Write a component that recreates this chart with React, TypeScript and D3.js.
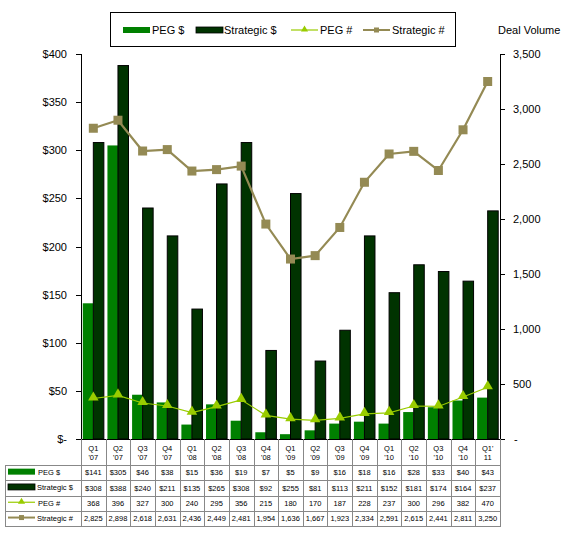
import React from 'react';
import * as d3 from 'd3';

// quarters (two-line labels)
const quarters = ['Q1', 'Q2', 'Q3', 'Q4', 'Q1', 'Q2', 'Q3', 'Q4', 'Q1', 'Q2', 'Q3', 'Q4', 'Q1', 'Q2', 'Q3', 'Q4', "Q1'"];
const years = ["'07", "'07", "'07", "'07", "'08", "'08", "'08", "'08", "'09", "'09", "'09", "'09", "'10", "'10", "'10", "'10", '11'];

const pegDollar = [141, 305, 46, 38, 15, 36, 19, 7, 5, 9, 16, 18, 16, 28, 33, 40, 43];
const stratDollar = [308, 388, 240, 211, 135, 265, 308, 92, 255, 81, 113, 211, 152, 181, 174, 164, 237];
const pegCount = [368, 396, 327, 300, 240, 295, 356, 215, 180, 170, 187, 228, 237, 300, 296, 382, 470];
const stratCount = [2825, 2898, 2618, 2631, 2436, 2449, 2481, 1954, 1636, 1667, 1923, 2334, 2591, 2615, 2441, 2811, 3250];

const leftTicks = [0, 50, 100, 150, 200, 250, 300, 350, 400];
const rightTicks = [0, 500, 1000, 1500, 2000, 2500, 3000, 3500];

const W = 564;
const H = 534;
const plot = { left: 81, right: 500, top: 54, bottom: 439 };

const C_PEG = '#008000';
const C_STRAT = '#003300';
const C_PEGN = '#99cc00';
const C_STRATN = '#948a54';
const GRID = '#888888';
const FONT = '"Liberation Sans", Arial, sans-serif';

const idx = d3.range(quarters.length);

const x = d3.scaleBand<number>().domain(idx).range([plot.left, plot.right]).paddingInner(0).paddingOuter(0);
const inner = d3.scaleBand<string>().domain(['peg', 'strat']).range([0, x.bandwidth()]).paddingOuter(0.17).paddingInner(0);
const yL = d3.scaleLinear().domain([0, 400]).range([plot.bottom, plot.top]);
const yR = d3.scaleLinear().domain([0, 3500]).range([plot.bottom, plot.top]);

const fmtComma = d3.format(',');
const cx = (i: number) => (x(i) as number) + x.bandwidth() / 2;

const triangle = d3.symbol().type(d3.symbolTriangle).size(48);

const pegLine = d3.line<number>().x((_, i) => cx(i)).y(d => yR(d));

// table rows
const rowTop = 465;
const rowH = 15.3;
const tableLeft = 5;

const rows = [
  { name: 'PEG $', values: pegDollar.map(v => '$' + v), key: 'peg' },
  { name: 'Strategic $', values: stratDollar.map(v => '$' + v), key: 'strat' },
  { name: 'PEG #', values: pegCount.map(v => fmtComma(v)), key: 'pegn' },
  { name: 'Strategic #', values: stratCount.map(v => fmtComma(v)), key: 'stratn' },
];

function Key({ k, x0, y0, w }: { k: string; x0: number; y0: number; w: number }) {
  if (k === 'peg') return <rect x={x0} y={y0 - 3} width={w} height={6} fill={C_PEG} />;
  if (k === 'strat') return <rect x={x0} y={y0 - 3} width={w} height={6} fill={C_STRAT} stroke="#000" strokeWidth={0.8} />;
  if (k === 'pegn')
    return (
      <g>
        <line x1={x0} x2={x0 + w} y1={y0} y2={y0} stroke={C_PEGN} strokeWidth={1.2} />
        <path d={d3.symbol().type(d3.symbolTriangle).size(22)() as string} transform={`translate(${x0 + w / 2},${y0 - 0.5})`} fill={C_PEGN} />
      </g>
    );
  return (
    <g>
      <line x1={x0} x2={x0 + w} y1={y0} y2={y0} stroke={C_STRATN} strokeWidth={2} />
      <rect x={x0 + w / 2 - 2.5} y={y0 - 2.5} width={5} height={5} fill={C_STRATN} />
    </g>
  );
}

const App: React.FC = () => {
  const bw = inner.bandwidth();
  return (
    <svg width={W} height={H} style={{ position: 'absolute', left: 0, top: 0, background: '#fff' }} fontFamily={FONT}>
      {/* legend */}
      <rect x={110.5} y={12.5} width={345} height={34} fill="#fff" stroke="#000" strokeWidth={1} />
      {[
        { k: 'peg', x0: 123, tx: 152, label: 'PEG $' },
        { k: 'strat', x0: 196, tx: 224, label: 'Strategic $' },
        { k: 'pegn', x0: 291, tx: 320, label: 'PEG #' },
        { k: 'stratn', x0: 363, tx: 392, label: 'Strategic #' },
      ].map(d => (
        <g key={d.k}>
          <Key k={d.k} x0={d.x0} y0={30} w={27} />
          <text x={d.tx} y={34} fontSize={11} fill="#000">{d.label}</text>
        </g>
      ))}
      <text x={498} y={34} fontSize={11} fill="#000">Deal Volume</text>

      {/* bars */}
      {idx.map(i => (
        <g key={'b' + i}>
          <rect x={(x(i) as number) + (inner('peg') as number)} y={yL(pegDollar[i])} width={bw} height={yL(0) - yL(pegDollar[i])} fill={C_PEG} />
          <rect x={(x(i) as number) + (inner('strat') as number)} y={yL(stratDollar[i])} width={bw} height={yL(0) - yL(stratDollar[i])} fill={C_STRAT} stroke="#000" strokeWidth={1} />
        </g>
      ))}

      {/* lines */}
      <path d={pegLine(stratCount) as string} fill="none" stroke={C_STRATN} strokeWidth={2.2} />
      {stratCount.map((v, i) => (
        <rect key={'sq' + i} x={cx(i) - 4.5} y={yR(v) - 4.5} width={9} height={9} fill={C_STRATN} />
      ))}
      <path d={pegLine(pegCount) as string} fill="none" stroke={C_PEGN} strokeWidth={1.2} />
      {pegCount.map((v, i) => (
        <path key={'tr' + i} d={triangle() as string} transform={`translate(${cx(i)},${yR(v) - 1})`} fill={C_PEGN} />
      ))}

      {/* left axis */}
      <line x1={plot.left + 0.5} x2={plot.left + 0.5} y1={plot.top} y2={plot.bottom} stroke="#000" />
      {leftTicks.map(t => (
        <g key={'l' + t}>
          <line x1={plot.left - 5} x2={plot.left} y1={Math.round(yL(t)) + 0.5} y2={Math.round(yL(t)) + 0.5} stroke="#000" />
          <text x={67} y={yL(t) + 4} fontSize={11} textAnchor="end" fill="#000">{t === 0 ? '$-' : '$' + t}</text>
        </g>
      ))}

      {/* right axis */}
      <line x1={plot.right + 0.5} x2={plot.right + 0.5} y1={plot.top} y2={plot.bottom} stroke="#000" />
      {rightTicks.map(t => (
        <g key={'r' + t}>
          <line x1={plot.right} x2={plot.right + 5} y1={Math.round(yR(t)) + 0.5} y2={Math.round(yR(t)) + 0.5} stroke="#000" />
          <text x={t === 0 ? 514 : 513} y={yR(t) + 4} fontSize={11} fill="#000">{t === 0 ? '-' : fmtComma(t)}</text>
        </g>
      ))}

      {/* bottom axis */}
      <line x1={plot.left} x2={plot.right + 1} y1={plot.bottom + 0.5} y2={plot.bottom + 0.5} stroke="#000" />

      {/* data table */}
      {idx.map(i => (
        <line key={'v' + i} x1={Math.round(x(i) as number) + 0.5} x2={Math.round(x(i) as number) + 0.5} y1={plot.bottom} y2={rowTop + rowH * 4} stroke={GRID} />
      ))}
      <line x1={plot.right + 0.5} x2={plot.right + 0.5} y1={plot.bottom} y2={rowTop + rowH * 4} stroke={GRID} />
      <line x1={tableLeft + 0.5} x2={tableLeft + 0.5} y1={rowTop} y2={rowTop + rowH * 4} stroke={GRID} />
      {d3.range(5).map(r => (
        <line key={'h' + r} x1={tableLeft} x2={plot.right + 1} y1={Math.round(rowTop + r * rowH) + 0.5} y2={Math.round(rowTop + r * rowH) + 0.5} stroke={GRID} />
      ))}
      {idx.map(i => (
        <g key={'q' + i} fontSize={7.5} textAnchor="middle" fill="#000">
          <text x={cx(i)} y={451}>{quarters[i]}</text>
          <text x={cx(i)} y={460}>{years[i]}</text>
        </g>
      ))}
      {rows.map((r, ri) => {
        const ym = rowTop + ri * rowH + rowH / 2;
        return (
          <g key={r.key}>
            <Key k={r.key} x0={8} y0={ym - 1} w={27} />
            <text x={r.key === 'strat' || r.key === 'stratn' ? 37 : 38} y={ym + 2.5} fontSize={7.5} fill="#000">{r.name}</text>
            {r.values.map((v, i) => (
              <text key={i} x={cx(i)} y={ym + 2.8} fontSize={7.5} textAnchor="middle" fill="#000">{v}</text>
            ))}
          </g>
        );
      })}
    </svg>
  );
};

export default App;
